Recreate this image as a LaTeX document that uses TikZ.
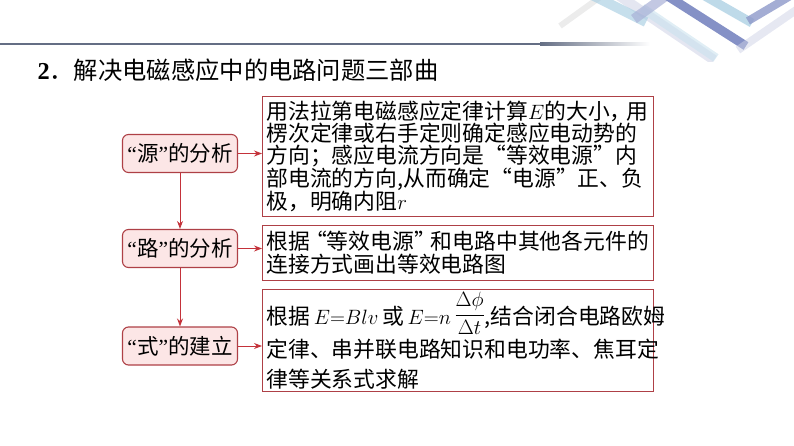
\documentclass[tikz,border=0pt]{standalone}
\usepackage{amsmath}
\usepackage[no-math]{fontspec}
\setmainfont{Noto Sans CJK SC}
\newfontfamily\titlenum{Liberation Serif}
\usetikzlibrary{arrows.meta}
\definecolor{boxred}{RGB}{174,64,70}
\definecolor{arrowred}{RGB}{196,50,58}
\definecolor{boxpink}{RGB}{252,230,230}
\definecolor{rulegray}{RGB}{100,110,132}
\definecolor{stripeblue}{RGB}{168,206,226}
\definecolor{stripedark}{RGB}{112,126,188}
\definecolor{stripelav}{RGB}{206,210,230}
\newcommand{\stepquote}[1]{{\titlenum “}#1{\titlenum ”}}

\begin{document}
\begin{tikzpicture}[x=1pt,y=-1pt,
  srcbox/.style={draw=boxred,fill=boxpink,rounded corners=6pt,line width=1.1pt,
    minimum width=115pt,minimum height=38pt,inner sep=1pt,
    font=\fontsize{21.5}{24}\selectfont},
  descbox/.style={draw=boxred,line width=1.1pt,anchor=north west,align=left,
    inner xsep=4pt,inner ysep=2pt,text width=383pt},
  flowarrow/.style={draw=arrowred,line width=1pt,-{Stealth[length=8pt,width=6pt]}},
  stripe/.style={line width=#1,line cap=butt}]
\useasboundingbox (0,0) rectangle (794,446);

% top decoration
\begin{scope}
\clip (540,0) rectangle (794,62);
\draw[stripe=6pt,gray!15] (603,-5) -- (560,26);
\draw[stripe=10pt,stripelav,opacity=.55] (618,-5) -- (714,60);
\draw[stripe=10pt,stripeblue,opacity=.65] (592,-5) -- (646,22);
\draw[stripe=9pt,stripeblue!60,opacity=.6] (642,8) -- (716,58);
\draw[stripe=10pt,stripedark!60,opacity=.7] (667,-5) -- (634,19);
\draw[stripe=9pt,stripedark,opacity=.85] (666,-5) -- (746,46);
\draw[stripe=9pt,stripeblue,opacity=.75] (703,-5) -- (752,23);
\draw[stripe=8pt,stripedark!80,opacity=.8] (792,-5) -- (748,21);
\draw[stripe=8pt,stripelav,opacity=.5] (802,6) -- (738,50);
\end{scope}
\fill[rulegray] (0,42.8) rectangle (540,45.2);
\shade[left color=rulegray,right color=white] (540,42.8) rectangle (650,45.2);

\node[anchor=base west,font=\fontsize{24.3}{26}\selectfont] (title) at (34,80)
  {{\titlenum\bfseries 2}．解决电磁感应中的电路问题三部曲};

% the three steps
\node[srcbox] (src) at (180,153.5) {\stepquote{源}的分析};
\node[srcbox] (road) at (180,248.5) {\stepquote{路}的分析};
\node[srcbox] (law) at (180,346) {\stepquote{式}的建立};

\node[descbox,minimum height=120pt,font=\fontsize{21.8}{22.2}\selectfont] (srcdesc) at (262,96)
  {用法拉第电磁感应定律计算$E$的大小，\kern-5pt用\\
   楞次定律或右手定则确定感应电动势的\\
   方向；感应电流方向是“等效电源”内\\
   部电流的方向,从而确定“电源”正、负\\
   极，明确内阻$r$};
\node[descbox,minimum height=55pt,font=\fontsize{21.8}{23}\selectfont] (roaddesc) at (262,225)
  {根据\kern-5pt“等效电源”\kern-5pt和电路中其他各元件的\\
   连接方式画出等效电路图};
\node[descbox,minimum height=102pt,font=\fontsize{21.8}{30}\selectfont] (lawdesc) at (262,289)
  {根据\,$E{=}Blv$\,或\,$E{=}n\,\raisebox{4pt}{$\dfrac{\Delta\phi}{\Delta t}$}$,结合闭合电路欧姆\\[3pt]
   定律、串并联电路知识和电功率、焦耳定\\
   律等关系式求解};

\draw[flowarrow] (src.east) -- (src.east -| srcdesc.west);
\draw[flowarrow] (road.east) -- (road.east -| roaddesc.west);
\draw[flowarrow] (law.east) -- (law.east -| lawdesc.west);
\draw[flowarrow] (src.south) -- (road.north);
\draw[flowarrow] (road.south) -- (law.north);
\end{tikzpicture}
\end{document}
